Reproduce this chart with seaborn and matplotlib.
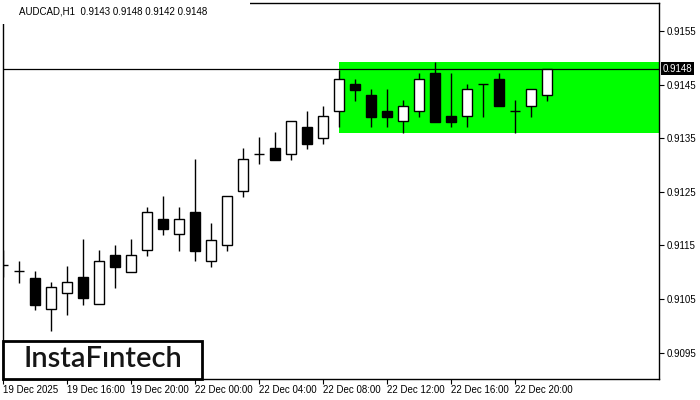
import matplotlib
matplotlib.use("Agg")
import matplotlib.pyplot as plt
from matplotlib.patches import Rectangle
from matplotlib import transforms
import seaborn as sns
import pandas as pd
import numpy as np

# ---- data ----
opens  = [0.91113, 0.91102, 0.91090, 0.91031, 0.91061, 0.91091, 0.91040, 0.91132, 0.91101, 0.91141,
          0.91200, 0.91171, 0.91212, 0.91120, 0.91150, 0.91251, 0.91320, 0.91331, 0.91320, 0.91370,
          0.91351, 0.91400, 0.91451, 0.91430, 0.91401, 0.91382, 0.91400, 0.91472, 0.91391, 0.91391,
          0.91451, 0.91460, 0.91400, 0.91411, 0.91430]
highs  = [0.91141, 0.91121, 0.91102, 0.91082, 0.91112, 0.91162, 0.91141, 0.91151, 0.91162, 0.91222,
          0.91242, 0.91222, 0.91311, 0.91192, 0.91242, 0.91332, 0.91352, 0.91362, 0.91382, 0.91400,
          0.91411, 0.91478, 0.91460, 0.91441, 0.91441, 0.91421, 0.91471, 0.91492, 0.91472, 0.91451,
          0.91451, 0.91472, 0.91421, 0.91441, 0.91480]
lows   = [0.91091, 0.91080, 0.91029, 0.90991, 0.91021, 0.91039, 0.91040, 0.91071, 0.91101, 0.91131,
          0.91170, 0.91140, 0.91120, 0.91110, 0.91140, 0.91241, 0.91301, 0.91310, 0.91310, 0.91330,
          0.91340, 0.91370, 0.91420, 0.91370, 0.91370, 0.91360, 0.91390, 0.91381, 0.91370, 0.91370,
          0.91390, 0.91411, 0.91360, 0.91390, 0.91420]
closes = [0.91113, 0.91102, 0.91039, 0.91072, 0.91081, 0.91051, 0.91120, 0.91110, 0.91132, 0.91212,
          0.91181, 0.91200, 0.91140, 0.91161, 0.91242, 0.91311, 0.91320, 0.91310, 0.91382, 0.91340,
          0.91391, 0.91460, 0.91440, 0.91390, 0.91390, 0.91411, 0.91460, 0.91381, 0.91381, 0.91441,
          0.91451, 0.91411, 0.91400, 0.91441, 0.91480]
x_tick_labels = ["19 Dec 2025", "19 Dec 16:00", "19 Dec 20:00", "22 Dec 00:00", "22 Dec 04:00",
                 "22 Dec 08:00", "22 Dec 12:00", "22 Dec 16:00", "22 Dec 20:00"]
y_ticks = [0.9095, 0.9105, 0.9115, 0.9125, 0.9135, 0.9145, 0.9155]
current_price = 0.9148
range_start = 21
title = "AUDCAD,H1  0.9143 0.9148 0.9142 0.9148"
logo = "InstaF\u0131ntech"

df = pd.DataFrame({"open": opens, "high": highs, "low": lows, "close": closes})
df["idx"] = np.arange(len(df))

sns.set_theme(style="white")
plt.rcParams["font.family"] = ["Liberation Sans", "DejaVu Sans"]

W, H = 700, 400
fig = plt.figure(figsize=(7, 4), dpi=100)
ax = fig.add_axes([3 / W, 1 - 378.5 / H, (659 - 3) / W, (378.5 - 2.5) / H])
ax.set_facecolor("white")

# range rectangle
rng = df.iloc[range_start:]
top, bot = rng["high"].max(), rng["low"].min()
ax.add_patch(Rectangle((range_start, bot), 50, top - bot, facecolor="#00ff00",
                       edgecolor="none", zorder=1))

# current price line
ax.axhline(current_price, color="black", lw=0.9, zorder=2)

# wicks
ax.vlines(df["idx"], df["low"], df["high"], color="black", lw=1.0, zorder=3)

bw = 0.62
body_bot = np.minimum(df["open"], df["close"])
body_h = np.abs(df["close"] - df["open"])
bull = df["close"] > df["open"] + 1e-7
bear = df["close"] < df["open"] - 1e-7
doji = ~(bull | bear)
ax.bar(df["idx"][bull], body_h[bull], bottom=body_bot[bull], width=bw,
       color="white", edgecolor="black", linewidth=1.0, zorder=4)
ax.bar(df["idx"][bear], body_h[bear], bottom=body_bot[bear], width=bw,
       color="black", edgecolor="black", linewidth=1.0, zorder=4)
ax.hlines(df["open"][doji], df["idx"][doji] - bw / 2, df["idx"][doji] + bw / 2,
          color="black", lw=1.0, zorder=4)

ax.set_xlim(-0.02, 40.98)
ax.set_ylim(0.909017, 0.916032)

# axes styling
for s in ax.spines.values():
    s.set_color("black")
    s.set_linewidth(1.0)
ax.yaxis.tick_right()
ax.set_yticks(y_ticks)
ax.set_yticklabels([f"{v:.4f}" for v in y_ticks])
ax.set_xticks(np.arange(0, 4 * len(x_tick_labels), 4))
ax.set_xticklabels(x_tick_labels, ha="left")
ax.tick_params(axis="both", which="both", length=3.5, width=0.8, color="black",
               labelsize=7, labelcolor="black", direction="out")
ax.tick_params(axis="y", pad=2, right=True, left=False)
ax.tick_params(axis="x", pad=1.5, bottom=True)
ax.grid(False)

# current price label
trans = transforms.blended_transform_factory(ax.transAxes, ax.transData)
ax.text(1.006, current_price, "0.9148", transform=trans, ha="left", va="center",
        fontsize=7, color="white", zorder=10, clip_on=False,
        bbox=dict(boxstyle="square,pad=0.15", facecolor="black", edgecolor="none"))

# title area (covers top frame at left like reference)
fig.patches.append(Rectangle((0, 1 - 24 / H), 250 / W, 24 / H, transform=fig.transFigure,
                             facecolor="white", edgecolor="none", zorder=5))
fig.text(19 / W, 1 - 12 / H, title, ha="left", va="center", fontsize=7, color="black", zorder=6)

# logo box
fig.patches.append(Rectangle((3 / W, 1 - 378.5 / H), (202 - 3) / W, (378.5 - 341) / H,
                             transform=fig.transFigure, facecolor="white", edgecolor="black",
                             linewidth=2.0, zorder=5))
fig.text(102.5 / W, 1 - 359 / H, logo, ha="center", va="center", fontsize=21,
         family=["Lato", "DejaVu Sans"], fontweight="semibold", color="#151515", zorder=6)

fig.savefig("out.png", dpi=100)
